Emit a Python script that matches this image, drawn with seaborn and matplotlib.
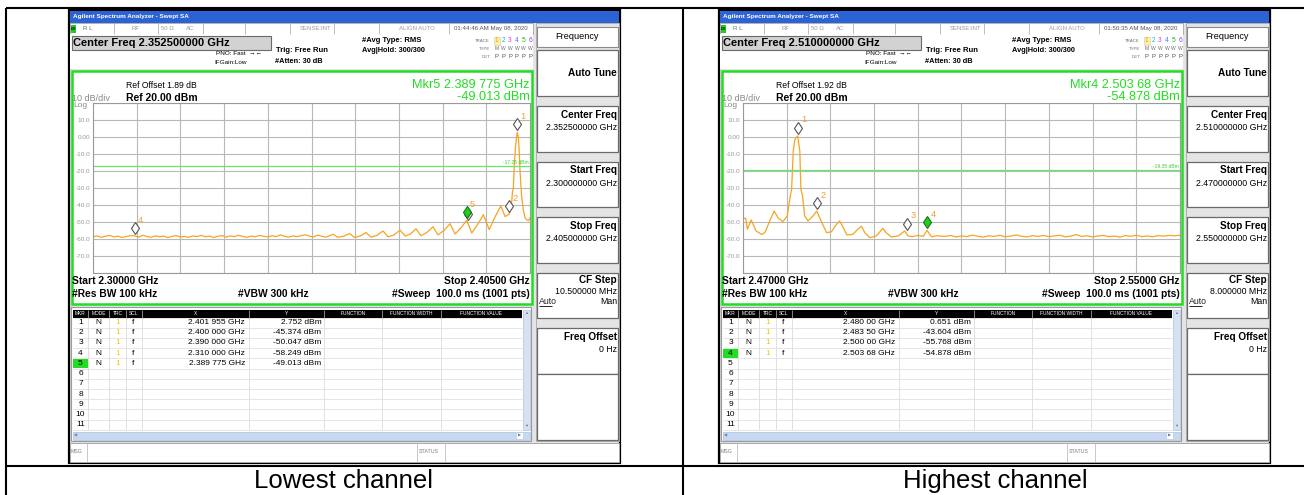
import numpy as np
import pandas as pd
import seaborn as sns
import matplotlib.pyplot as plt
from matplotlib.patches import Rectangle
from matplotlib import transforms

# ---- lowest channel sweep (GHz / dBm)
low_freq = [
    2.300, 2.301, 2.302, 2.303, 2.304, 2.305, 2.306, 2.307, 2.308, 2.309,
    2.310, 2.311, 2.312, 2.313, 2.314, 2.315, 2.316, 2.317, 2.318, 2.319,
    2.320, 2.321, 2.322, 2.323, 2.324, 2.325, 2.326, 2.327, 2.328, 2.329,
    2.330, 2.331, 2.332, 2.333, 2.334, 2.335, 2.336, 2.337, 2.338, 2.339,
    2.340, 2.341, 2.342, 2.343, 2.344, 2.345, 2.346, 2.347, 2.348, 2.349,
    2.350, 2.351, 2.352, 2.353, 2.354, 2.355, 2.356,
    2.3577, 2.3588, 2.3602, 2.3617, 2.3628, 2.3642, 2.3656, 2.3668, 2.3682,
    2.3697, 2.3709, 2.3723, 2.3738, 2.3750, 2.3763, 2.3776, 2.3788, 2.3802, 2.3817,
    2.3829, 2.3843, 2.3858, 2.3870, 2.3884, 2.3898, 2.3910, 2.3924, 2.3938, 2.3952,
    2.3966, 2.3980, 2.3990, 2.4000, 2.4005, 2.4008, 2.4010, 2.4012, 2.4015, 2.4018,
    2.40196, 2.4022, 2.4024, 2.4026, 2.4028, 2.4030, 2.4034, 2.4038, 2.4042, 2.4046, 2.4050]
low_level = [
    -58.6, -58.2, -59.0, -58.4, -57.9, -58.8, -58.3, -59.1, -58.5, -58.0,
    -58.2, -58.9, -57.8, -58.6, -59.0, -58.1, -58.7, -58.3, -59.2, -58.4,
    -58.0, -58.8, -58.5, -59.0, -58.2, -58.6, -57.9, -58.7, -58.3, -59.1,
    -58.4, -58.0, -58.9, -58.2, -58.6, -57.8, -58.5, -59.0, -58.3, -58.7,
    -57.9, -58.4, -58.8, -58.1, -58.6, -57.6, -58.4, -58.9, -58.2, -58.6,
    -58.0, -57.5, -58.3, -58.8, -57.7, -58.4, -58.9,
    -57.2, -59.0, -58.4, -56.8, -59.1, -58.2, -56.2, -58.9, -57.9,
    -55.3, -58.7, -57.6, -54.8, -58.3, -57.0, -54.0, -58.1, -56.2, -52.8,
    -57.6, -55.0, -51.0, -57.0, -53.5, -49.0, -56.5, -51.5, -45.7, -54.5,
    -47.0, -40.5, -46.8, -45.4, -41.0, -32.0, -30.5, -18.0, -6.0, 0.5,
    2.75, 0.0, -8.0, -20.0, -28.0, -35.0, -43.0, -47.5, -48.6, -49.2, -47.5]

# ---- highest channel sweep
high_freq = [
    2.4700, 2.4705, 2.4708, 2.4715, 2.4724, 2.4734, 2.4740, 2.4749, 2.4757, 2.4764,
    2.4773, 2.4781, 2.4787, 2.4789, 2.4792, 2.4795, 2.4800, 2.4801, 2.4804, 2.4806,
    2.4809, 2.4813, 2.4819, 2.4828, 2.4835, 2.4843, 2.4853, 2.4862, 2.4871, 2.4877,
    2.4883, 2.4890, 2.4901, 2.4910, 2.4917, 2.4923, 2.4932, 2.4944, 2.4956, 2.4962,
    2.4972, 2.4984, 2.4996, 2.5002, 2.5010, 2.5020, 2.5030, 2.5037, 2.5045, 2.5055,
    2.507, 2.508, 2.509, 2.510, 2.511, 2.512, 2.513, 2.514, 2.515, 2.516,
    2.517, 2.518, 2.519, 2.520, 2.521, 2.522, 2.523, 2.524, 2.525, 2.526,
    2.527, 2.528, 2.529, 2.530, 2.531, 2.532, 2.533, 2.534, 2.535, 2.536,
    2.537, 2.538, 2.539, 2.540, 2.541, 2.542, 2.543, 2.544, 2.545, 2.546,
    2.547, 2.548, 2.549, 2.550]
high_level = [
    -47.8, -47.8, -54.3, -48.8, -55.3, -57.3, -56.3, -49.4, -43.5, -47.5,
    -49.8, -46.5, -33.7, -30.8, -8.2, -1.4, 0.651, -1.4, -8.2, -30.8,
    -34.7, -46.5, -49.4, -46.5, -43.6, -49.4, -56.3, -55.7, -51.4, -49.4,
    -52.9, -57.6, -57.3, -54.3, -52.5, -56.3, -59.2, -58.2, -53.7, -56.3,
    -58.8, -58.2, -55.3, -58.2, -58.6, -57.9, -58.4, -54.9, -58.7, -58.1,
    -58.5, -57.9, -58.8, -58.2, -58.6, -57.7, -58.4, -58.9, -58.1, -58.5,
    -57.8, -58.7, -58.3, -57.6, -58.4, -58.8, -58.0, -58.5, -57.9, -58.6,
    -58.2, -57.8, -58.7, -58.3, -57.4, -58.5, -58.1, -58.8, -58.2, -57.9,
    -58.6, -58.3, -58.9, -58.0, -58.4, -57.8, -58.6, -58.2, -58.7, -58.0,
    -58.3, -57.9, -58.1, -57.8]

# ---- markers
low_mkr_freq = [2.401955, 2.400000, 2.390000, 2.310000, 2.389775]
low_mkr_level = [2.752, -45.374, -50.047, -58.249, -49.013]
high_mkr_freq = [2.48000, 2.48350, 2.50000, 2.50368]
high_mkr_level = [0.651, -43.604, -55.768, -54.878]

captions = ["Lowest channel", "Highest channel"]

low_set = dict(center="2.352500000 GHz", start="2.300000000 GHz", stop="2.405000000 GHz",
               cfstep="10.500000 MHz", span=("2.30000 GHz", "2.40500 GHz"),
               offset="1.89 dB", clock="01:44:46 AM May 08, 2020", thr=-17.25,
               active=4, ndec=6)
high_set = dict(center="2.510000000 GHz", start="2.470000000 GHz", stop="2.550000000 GHz",
                cfstep="8.000000 MHz", span=("2.47000 GHz", "2.55000 GHz"),
                offset="1.92 dB", clock="01:50:35 AM May 08, 2020", thr=-19.35,
                active=3, ndec=5)

sns.set_theme(style="white")
plt.rcParams["font.family"] = ["Liberation Sans", "DejaVu Sans"]

W, H = 1304, 495
fig = plt.figure(figsize=(W / 100, H / 100), dpi=100)
bg = fig.add_axes([0, 0, 1, 1])
bg.set_xlim(0, W)
bg.set_ylim(H, 0)
bg.axis("off")


def box(x0, y0, x1, y1, fc="white", ec="#8c8c8c", lw=0.8, z=1):
    bg.add_patch(Rectangle((x0, y0), x1 - x0, y1 - y0, facecolor=fc,
                           edgecolor=ec, linewidth=lw, zorder=z))


def txt(x, y, s, size=5, color="black", ha="left", bold=False, z=6):
    bg.text(x, y, s, fontsize=size, color=color, ha=ha, va="center",
            fontweight="bold" if bold else "normal", zorder=z)


def line(xs, ys, color="black", lw=1.5, z=8):
    bg.plot(xs, ys, color=color, lw=lw, zorder=z, solid_capstyle="butt")


def fmt_f(f, nd):
    s = f"{f:.{nd}f}"
    return s[:5] + " " + s[5:]


def draw_screen(ox, s, mk_f, mk_l):
    # window and title bar
    box(ox + 69, 10, ox + 620, 463, fc="#e4e4e4", ec="black", lw=1.6, z=1)
    box(ox + 69.8, 10.8, ox + 619.2, 22.5, fc="#2c63d4", ec="none", z=2)
    txt(ox + 73, 16.5, "Agilent Spectrum Analyzer - Swept SA", 4.6, "white", bold=True)

    # status row
    box(ox + 69.8, 23, ox + 533, 34, fc="white", ec="#a8a8a8", lw=0.6, z=2)
    for sx in [114, 158, 203, 245, 290, 334, 379, 449]:
        line([ox + sx] * 2, [23, 34], "#b4b4b4", 0.6, 3)
    box(ox + 70.5, 24.5, ox + 76, 32.5, fc="#22cc22", ec="none", z=3)
    txt(ox + 70.8, 28.6, "LXI", 2.4, bold=True)
    txt(ox + 83, 28.7, "R L", 4.4, "#707070")
    for tx, tt in [(135.5, "RF"), (167.5, "50 Ω"), (190, "AC"), (315, "SENSE:INT"),
                   (416.5, "ALIGN AUTO")]:
        txt(ox + tx, 28.7, tt, 4.3, "#9a9a9a", ha="center")
    txt(ox + 491, 28.7, s["clock"], 4.4, "#555555", ha="center")

    # settings header
    box(ox + 69.8, 34, ox + 533, 69, fc="white", ec="none", z=2)
    box(ox + 71.7, 35.5, ox + 270.7, 49.7, fc="#d2d2d2", ec="#6a6a6a", lw=0.8, z=3)
    txt(ox + 73, 42.8, "Center Freq " + s["center"], 8, bold=True)
    txt(ox + 216, 53.3, "PNO: Fast  →←", 4.6)
    txt(ox + 214, 62.7, "IFGain:Low", 4.6)
    txt(ox + 276.5, 50.6, "Trig: Free Run", 5.5, bold=True)
    txt(ox + 275, 61.7, "#Atten: 30 dB", 5.3, bold=True)
    txt(ox + 361.5, 40.8, "#Avg Type: RMS", 5.5, bold=True)
    txt(ox + 361.5, 50.6, "Avg|Hold: 300/300", 5.3, bold=True)
    txt(ox + 490, 40.7, "TRACE", 3.2, "#707070", ha="right")
    txt(ox + 490, 48.8, "TYPE", 3.2, "#707070", ha="right")
    txt(ox + 490, 56.7, "DET", 3.2, "#707070", ha="right")
    box(ox + 493.5, 37, ox + 499.5, 44.5, fc="#fff3a0", ec="#c8c8c8", lw=0.4, z=3)
    tcol = ["#e8a000", "#18b8e0", "#e040d0", "#5070ff", "#20b020", "#9040f0"]
    for k in range(6):
        txt(ox + 496.5 + k * 6.8, 40.7, str(k + 1), 4.8, tcol[k], ha="center")
        txt(ox + 496.5 + k * 6.8, 48.8, "M" if k == 0 else "W", 3.6, "#707070", ha="center")
        txt(ox + 496.5 + k * 6.8, 56.7, "P", 4.2, "#505050", ha="center")

    # graph area
    box(ox + 71.5, 70.5, ox + 531.5, 303.5, fc="white", ec="#22dd22", lw=1.8, z=2)
    txt(ox + 126.5, 86, "Ref Offset " + s["offset"], 6.2)
    txt(ox + 72.5, 98.6, "10 dB/div", 6.5, "#8a8a8a")
    txt(ox + 126.5, 97.6, "Ref 20.00 dBm", 7.5, bold=True)
    txt(ox + 73, 105.5, "Log", 6, "#8a8a8a")
    a = s["active"]
    txt(ox + 530, 85, f"Mkr{a + 1} {fmt_f(mk_f[a], s['ndec'])} GHz", 9.2, "#22dd22", ha="right")
    txt(ox + 530, 96.5, f"{mk_l[a]:.3f} dBm", 9.2, "#22dd22", ha="right")
    txt(ox + 72.5, 281.5, "Start " + s["span"][0], 7.4, bold=True)
    txt(ox + 530, 281.5, "Stop " + s["span"][1], 7.4, bold=True, ha="right")
    txt(ox + 72.5, 294, "#Res BW 100 kHz", 7.4, bold=True)
    txt(ox + 273.5, 294, "#VBW 300 kHz", 7.4, bold=True, ha="center")
    txt(ox + 530, 294, "#Sweep  100.0 ms (1001 pts)", 7.4, bold=True, ha="right")

    # marker table
    box(ox + 71, 307, ox + 531, 441, fc="white", ec="#9a9a9a", lw=0.8, z=2)
    box(ox + 72.5, 310, ox + 522, 317.5, fc="black", ec="none", z=3)
    cols = [72.5, 88.3, 109.3, 126, 141.7, 249.3, 324, 381.7, 440.7, 522]
    heads = ["MKR", "MODE", "TRC", "SCL", "X", "Y", "FUNCTION", "FUNCTION WIDTH", "FUNCTION VALUE"]
    for k, hname in enumerate(heads):
        txt(ox + (cols[k] + cols[k + 1]) / 2, 313.8, hname, 3.5, "white", ha="center", z=7)
        if k > 0:
            line([ox + cols[k]] * 2, [310, 317.5], "#9a9a9a", 0.6, 7)
            line([ox + cols[k]] * 2, [317.5, 429.5], "#dcdcdc", 0.6, 3)
    rh = 10.2
    for r in range(12):
        line([ox + 72.5, ox + 522], [317.5 + r * rh] * 2, "#e0e0e0", 0.6, 3)
    for r in range(11):
        yc = 317.5 + (r + 0.5) * rh
        if r == a:
            box(ox + 73, yc - rh / 2 + 0.6, ox + 88, yc + rh / 2 - 0.6, fc="#22dd22", ec="none", z=4)
        txt(ox + 80.5, yc, str(r + 1), 6, ha="center")
        if r < len(mk_f):
            txt(ox + 98.5, yc, "N", 6, ha="center")
            txt(ox + 117.5, yc, "1", 6, "#e8d000", ha="center")
            txt(ox + 133.5, yc, "f", 6, ha="center")
            txt(ox + 245, yc, fmt_f(mk_f[r], s["ndec"]) + " GHz", 6, ha="right")
            txt(ox + 321.5, yc, f"{mk_l[r]:.3f} dBm", 6, ha="right")
    box(ox + 522.5, 310, ox + 530, 430, fc="#d6e2f4", ec="#b0c0dc", lw=0.5, z=3)
    txt(ox + 526.2, 313.5, "▲", 3, "#6a7ea8", ha="center", z=7)
    txt(ox + 526.2, 425.5, "▼", 3, "#6a7ea8", ha="center", z=7)
    box(ox + 72.5, 431.5, ox + 530, 440, fc="#c6d8f2", ec="#b0c0dc", lw=0.5, z=3)
    txt(ox + 75.5, 435.8, "◀", 3, "#6a7ea8", ha="center", z=7)
    box(ox + 516, 432.2, ox + 523, 439.3, fc="white", ec="#b0c0dc", lw=0.4, z=4)
    txt(ox + 519.5, 435.8, "▶", 3, "#6a7ea8", ha="center", z=7)

    # message bar
    box(ox + 69.8, 443, ox + 619.2, 462, fc="white", ec="#a8a8a8", lw=0.7, z=2)
    for sx in [87, 417, 445]:
        line([ox + sx] * 2, [443, 462], "#c0c0c0", 0.6, 3)
    txt(ox + 71, 451.8, "MSG", 3.8, "#808080")
    txt(ox + 419, 451.8, "STATUS", 3.8, "#808080")

    # softkey menu
    box(ox + 535.5, 23, ox + 619.2, 441, fc="#e4e4e4", ec="#a8a8a8", lw=0.6, z=2)
    box(ox + 536.5, 26.7, ox + 617.5, 46.7, fc="white", ec="#8a8a8a", lw=0.8, z=3)
    txt(ox + 577, 36.7, "Frequency", 6.6, ha="center")
    keys = [(50, 96, "Auto Tune", None), (106, 151.7, "Center Freq", s["center"]),
            (161.7, 207.3, "Start Freq", s["start"]), (217, 263, "Stop Freq", s["stop"]),
            (272.7, 318.3, "CF Step", s["cfstep"]), (328, 374, "Freq Offset", "0 Hz")]
    for y0, y1, title, val in keys:
        box(ox + 536.5, y0, ox + 617.5, y1, fc="white", ec="#6a6a6a", lw=0.9, z=3)
        if val is None:
            txt(ox + 617, (y0 + y1) / 2, title, 7.2, ha="right", bold=True)
        elif title == "CF Step":
            txt(ox + 617, y0 + 7.5, title, 7.2, ha="right", bold=True)
            txt(ox + 617, y0 + 19, val, 6.3, ha="right")
            txt(ox + 617, y0 + 29, "Man", 6.3, ha="right")
            bg.text(ox + 539, y0 + 29, "Auto", fontsize=6.3, va="center", zorder=6)
            line([ox + 539, ox + 552], [y0 + 33.2] * 2, "black", 0.6, 6)
        else:
            txt(ox + 617, y0 + 8.7, title, 7.2, ha="right", bold=True)
            txt(ox + 617, y0 + 21.3, val, 6.3, ha="right")
    box(ox + 536.5, 374, ox + 617.5, 440, fc="white", ec="#6a6a6a", lw=0.9, z=3)


def draw_trace(ox, freq, level, f0, f1, mk_f, mk_l, s):
    ax = fig.add_axes([(ox + 93) / W, (H - 273) / H, 437 / W, 170 / H])
    df = pd.DataFrame({"freq": freq, "level": level})
    sns.lineplot(data=df, x="freq", y="level", ax=ax, color="#f6a421",
                 linewidth=0.9, estimator=None, sort=False)
    ax.set_facecolor("white")
    ax.set_xlim(f0, f1)
    ax.set_ylim(-80, 20)
    ax.set_xticks(np.linspace(f0, f1, 11))
    yt = list(range(-80, 21, 10))
    ax.set_yticks(yt)
    ax.set_yticklabels(["" if v in (-80, 20) else ("0.00" if v == 0 else f"{v:.1f}") for v in yt])
    ax.tick_params(axis="x", labelbottom=False, length=0)
    ax.tick_params(axis="y", length=0, labelsize=4.6, labelcolor="#9a9a9a", pad=2)
    ax.grid(True, color="#b8b8b8", lw=0.8)
    ax.set_axisbelow(True)
    for sp in ax.spines.values():
        sp.set_color("#9a9a9a")
        sp.set_linewidth(0.8)
    ax.set_xlabel("")
    ax.set_ylabel("")

    thr = s["thr"]
    ax.axhline(thr, color="#66ea66", lw=0.9)
    blend = transforms.blended_transform_factory(ax.transAxes, ax.transData)
    ax.text(0.997, thr + 0.7, f"{thr:.2f} dBm", transform=blend, ha="right", va="bottom",
            fontsize=3.6, color="#3ccf3c")

    up = transforms.offset_copy(ax.transData, fig=fig, x=0, y=8, units="dots")
    a = s["active"]
    order = [i for i in range(len(mk_f)) if i != a] + [a]
    for i in order:
        f, l = mk_f[i], mk_l[i]
        hidden = i != a and abs(f - mk_f[a]) < 0.0005
        fc, ec = ("#22cc22", "#117711") if i == a else ("white", "#555555")
        ax.plot([f], [l], marker="d", ms=6, mfc=fc, mec=ec, mew=0.8,
                transform=up, clip_on=False, zorder=5)
        if not hidden:
            ax.annotate(str(i + 1), (f, l), xytext=(6, 16), textcoords="offset pixels",
                        fontsize=6.7, color="#f0a030", ha="center", va="center",
                        annotation_clip=False)


draw_screen(0, low_set, low_mkr_freq, low_mkr_level)
draw_screen(650, high_set, high_mkr_freq, high_mkr_level)
draw_trace(0, low_freq, low_level, 2.300, 2.405, low_mkr_freq, low_mkr_level, low_set)
draw_trace(650, high_freq, high_level, 2.470, 2.550, high_mkr_freq, high_mkr_level, high_set)

# document table frame and captions
line([6, 6], [8, 495], "black", 1.5, 9)
line([683, 683], [8, 495], "black", 1.5, 9)
line([6, W], [8, 8], "black", 1.5, 9)
line([6, W], [466, 466], "black", 1.5, 9)
txt(344, 481, captions[0], 18.5, ha="center")
txt(995, 481, captions[1], 18.5, ha="center")

fig.savefig("out.png", dpi=100)
